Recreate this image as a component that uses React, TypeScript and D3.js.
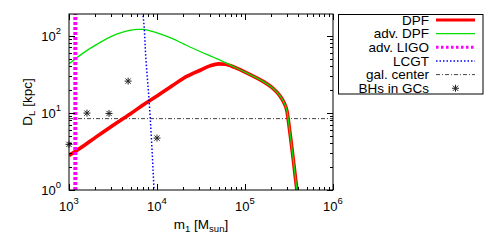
import * as d3 from "d3";

// axis ticks (major)
const massTicks = [1e3, 1e4, 1e5, 1e6];
const distTicks = [1, 10, 100];

// DPF reach [kpc] vs mass [Msun]
const dpfMass = [1000, 1500, 2000, 3000, 5000, 7000, 10000, 15000, 20000, 30000, 40000, 50000, 60000, 70000, 80000, 100000, 130000, 160000, 200000, 250000, 280000, 300000, 310000, 325000, 340000, 355000, 370000, 385000, 395000];
const dpfDist = [2.8, 3.8, 4.8, 6.6, 9.7, 12.7, 16.5, 22.5, 28, 35, 40.5, 43, 42.5, 40.3, 37.8, 33.6, 29, 25.5, 21.5, 16.5, 13.2, 10.5, 8.2, 5.4, 3.6, 2.4, 1.6, 1.1, 0.8];

const advDpfMass = [1000, 1500, 2000, 3000, 4000, 5000, 6000, 7000, 8000, 10000, 15000, 20000, 30000, 50000, 70000, 80000, 100000, 130000, 160000, 200000, 250000, 280000, 300000, 310000, 325000, 340000, 355000, 370000, 385000, 395000];
const advDpfDist = [43, 61, 75, 97, 110, 117, 120, 120, 117, 108, 91, 78, 63, 49, 40.8, 38, 33.6, 29, 25.5, 21.5, 16.5, 13.2, 10.5, 8.2, 5.4, 3.6, 2.4, 1.6, 1.1, 0.8];

const ligoMass = [1180, 1180];
const ligoDist = [1, 190];

const lcgtMass = [6850, 6900, 7500, 8170, 8700, 9250];
const lcgtDist = [200, 190, 47.6, 13.3, 4.04, 1];

const galCenterDist = 8.4;

const gcMass = [1000, 1600, 2850, 4700, 10000];
const gcDist = [3.9, 9.9, 9.8, 25.7, 4.7];

const legendLabels = ["DPF", "adv. DPF", "adv. LIGO", "LCGT", "gal. center", "BHs in GCs"];

const width = 488;
const height = 245;
const marginTop = 14;
const marginRight = 155;
const marginBottom = 55;
const marginLeft = 69;

const font = "'Liberation Sans', Arial, Helvetica, sans-serif";

function Star({ x, y, r = 3.5 }: { x: number; y: number; r?: number }) {
  const d = r * 0.75;
  return (
    <path
      d={`M${x - r},${y}H${x + r}M${x},${y - r}V${y + r}M${x - d},${y - d}L${x + d},${y + d}M${x - d},${y + d}L${x + d},${y - d}`}
      stroke="#222"
      strokeWidth={1}
      fill="none"
    />
  );
}

export default function App() {
  const x = d3.scaleLog().domain([1e3, 1e6]).range([marginLeft, width - marginRight]);
  const y = d3.scaleLog().domain([1, 190]).range([height - marginBottom, marginTop]);
  const x0 = marginLeft;
  const x1 = width - marginRight;
  const y0 = height - marginBottom;
  const y1 = marginTop;

  const pathFrom = (ms: number[], ds: number[]) =>
    d3
      .line<[number, number]>()
      .x((d) => x(d[0]))
      .y((d) => y(d[1]))
      .curve(d3.curveMonotoneX)(ms.map((m, i) => [m, ds[i]]));

  const lcgtPath = d3
    .line<[number, number]>()
    .x((d) => x(d[0]))
    .y((d) => y(d[1]))
    .curve(d3.curveMonotoneY)(lcgtMass.map((m, i) => [m, lcgtDist[i]]));

  const xMinor = x.ticks();
  const yMinor = y.ticks();
  const exp = (v: number) => Math.round(Math.log10(v));

  const legendTop = 20;
  const legendStep = 13.65;
  const lgTextX = 429;
  const lgX1 = 436;
  const lgX2 = 475;

  return (
    <svg
      width={width}
      height={height}
      style={{ position: "absolute", left: 0, top: 0, background: "white" }}
      fontFamily={font}
    >
      <defs>
        <clipPath id="plot">
          <rect x={x0} y={y1} width={x1 - x0} height={y0 - y1} />
        </clipPath>
      </defs>

      <g clipPath="url(#plot)">
        <line
          x1={x0}
          x2={x1}
          y1={y(galCenterDist)}
          y2={y(galCenterDist)}
          stroke="#444"
          strokeWidth={1}
          strokeDasharray="4,2,1,2"
        />
        <path d={pathFrom(dpfMass, dpfDist) || ""} fill="none" stroke="#ff0000" strokeWidth={3.6} strokeLinejoin="round" />
        <path d={pathFrom(advDpfMass, advDpfDist) || ""} fill="none" stroke="#00e000" strokeWidth={1.3} />
        <path d={pathFrom(ligoMass, ligoDist) || ""} fill="none" stroke="#ff00ff" strokeWidth={4} strokeDasharray="3,2" />
        <path d={lcgtPath || ""} fill="none" stroke="#0000ff" strokeWidth={1.5} strokeDasharray="1.5,2" />
      </g>
      {gcMass.map((m, i) => (
        <Star key={i} x={x(m)} y={y(gcDist[i])} />
      ))}

      {/* frame */}
      <rect x={x0} y={y1} width={x1 - x0} height={y0 - y1} fill="none" stroke="#000" strokeWidth={1} />

      {/* ticks on all four sides */}
      {xMinor.map((t, i) => {
        const major = massTicks.includes(t);
        const len = major ? 6 : 3;
        const px = Math.round(x(t)) + 0.5;
        return (
          <g key={"xt" + i} stroke="#000" strokeWidth={1}>
            <line x1={px} x2={px} y1={y0} y2={y0 - len} />
            <line x1={px} x2={px} y1={y1} y2={y1 + len} />
          </g>
        );
      })}
      {yMinor.map((t, i) => {
        const major = distTicks.includes(t);
        const len = major ? 6 : 3;
        const py = Math.round(y(t)) + 0.5;
        return (
          <g key={"yt" + i} stroke="#000" strokeWidth={1}>
            <line x1={x0} x2={x0 + len} y1={py} y2={py} />
            <line x1={x1} x2={x1 - len} y1={py} y2={py} />
          </g>
        );
      })}

      {massTicks.map((t) => (
        <text key={"xl" + t} x={x(t)} y={210.5} textAnchor="middle" fontSize={13} fill="#000">
          10
          <tspan dy={-7} fontSize={9.5}>
            {exp(t)}
          </tspan>
        </text>
      ))}
      {distTicks.map((t) => (
        <text key={"yl" + t} x={x0 - 8} y={y(t) + 5} textAnchor="end" fontSize={13} fill="#000">
          10
          <tspan dy={-7} fontSize={9.5}>
            {exp(t)}
          </tspan>
        </text>
      ))}

      {/* axis titles */}
      <text x={(x0 + x1) / 2} y={228.5} textAnchor="middle" fontSize={13.5} fill="#000">
        m
        <tspan dy={3} fontSize={9.5}>1</tspan>
        <tspan dy={-3}> [M</tspan>
        <tspan dy={3} fontSize={9.5}>sun</tspan>
        <tspan dy={-3}>]</tspan>
      </text>
      <text
        transform={`translate(32,${(y0 + y1) / 2}) rotate(-90)`}
        textAnchor="middle"
        fontSize={13.5}
        fill="#000"
      >
        D
        <tspan dy={3} fontSize={9.5}>L</tspan>
        <tspan dy={-3}> [kpc]</tspan>
      </text>

      {/* legend */}
      <rect x={338.5} y={14.5} width={144.5} height={79.5} fill="none" stroke="#000" strokeWidth={1} />
      {legendLabels.map((label, i) => {
        const ly = legendTop + i * legendStep;
        let sample;
        if (i === 0) sample = <line x1={lgX1} x2={lgX2} y1={ly} y2={ly} stroke="#ff0000" strokeWidth={3} />;
        else if (i === 1) sample = <line x1={lgX1} x2={lgX2} y1={ly} y2={ly} stroke="#00e000" strokeWidth={1.3} />;
        else if (i === 2)
          sample = <line x1={lgX1} x2={lgX2} y1={ly} y2={ly} stroke="#ff00ff" strokeWidth={3} strokeDasharray="2.5,2.5" />;
        else if (i === 3)
          sample = <line x1={lgX1} x2={lgX2} y1={ly} y2={ly} stroke="#0000ff" strokeWidth={1.5} strokeDasharray="1.5,2" />;
        else if (i === 4)
          sample = <line x1={lgX1} x2={lgX2} y1={ly} y2={ly} stroke="#444" strokeWidth={1} strokeDasharray="4,2,1,2" />;
        else sample = <Star x={(lgX1 + lgX2) / 2} y={ly} />;
        return (
          <g key={label}>
            <text x={lgTextX} y={ly + 4.8} textAnchor="end" fontSize={13.5} fill="#000">
              {label}
            </text>
            {sample}
          </g>
        );
      })}
    </svg>
  );
}
